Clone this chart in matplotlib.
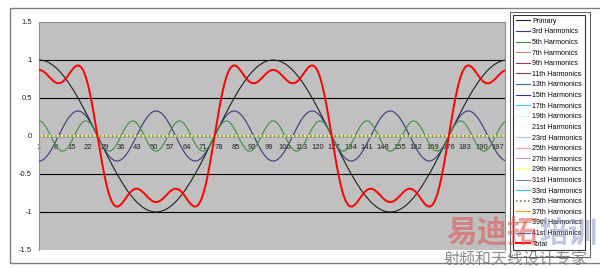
import numpy as np
import matplotlib
matplotlib.use("Agg")
import matplotlib.pyplot as plt
from matplotlib.patches import Rectangle

plt.rcParams['font.family'] = ['Liberation Sans', 'Noto Sans CJK SC', 'DejaVu Sans']

# sample index along the x axis (Excel row numbers)
points = np.arange(1, 201)
period = 100  # samples per cycle of the primary, read from the zero crossings

orders = [1, 3, 5, 7, 9, 11, 13, 15, 17, 19, 21, 23, 25, 27, 29, 31, 33, 35, 37, 39, 41]
labels = ["Primary", "3rd Harmonics", "5th Harmonics", "7th Harmonics", "9th Harmonics",
          "11th Harmonics", "13th Harmonics", "15th Harmonics", "17th Harmonics",
          "19th Harmonics", "21st Harmonics", "23rd Harmonics", "25th Harmonics",
          "27th Harmonics", "29th Harmonics", "31st Harmonics", "33rd Harmonics",
          "35th Harmonics", "37th Harmonics", "39th Harmonics", "41st Harmonics"]
# peak value of each component (only 3 are non zero)
amplitudes = [1.0, -0.33, 0.2] + [0.0] * 18

colors = ["#202020", "#3a3a80", "#3f8f3f", "#b09070", "#993366", "#804060",
          "#337777", "#333399", "#33ccff", "#ccffee", "#f4f8f0", "#99ccff",
          "#ff99cc", "#cc99cc", "#ffff99", "#6688bb", "#33cccc", "#6b6b20",
          "#ff9933", "#cc9966", "#3366cc"]
styles = ["-"] * 21
styles[17] = ":"

xticks = list(range(1, 198, 7))

fig = plt.figure(figsize=(6, 2.68), dpi=100)
W, H = 600, 268

# outer chart frame
fig.patches.append(Rectangle((10 / W, 1 - 263 / H), 595 / W, 255 / H, transform=fig.transFigure,
                             fill=False, edgecolor="#808080", lw=1.0))

ax = fig.add_axes([39 / W, 1 - 250 / H, (505 - 39) / W, (250 - 22) / H])
ax.set_facecolor("#c0c0c0")

phase = 2 * np.pi * (points - 1) / period
total = np.zeros(len(points))
handles = []
for i, (n, a, lab, c, ls) in enumerate(zip(orders, amplitudes, labels, colors, styles)):
    y = a * np.cos(n * phase)
    total += y
    z = 3
    lw = 0.8
    if i == 14:
        z, lw = 3.5, 1.2
    if ls == ":":
        z, lw = 3.6, 1.1
    h, = ax.plot(points, y, color=c, lw=lw, ls=ls, label=lab, zorder=z)
    handles.append(h)
h, = ax.plot(points, total, color="#ff0000", lw=1.4, label="Total", zorder=4)
handles.append(h)

ax.set_xlim(1, 200)
ax.set_ylim(-1.5, 1.5)
ax.set_yticks([-1.5, -1, -0.5, 0, 0.5, 1, 1.5])
ax.set_yticklabels(["-1.5", "-1", "-0.5", "0", "0.5", "1", "1.5"])
for v in [-1, -0.5, 0.5, 1]:
    ax.axhline(v, color="black", lw=0.8, zorder=1)

ax.set_xticks(xticks)
ax.set_xticklabels([str(t) for t in xticks])
ax.spines['bottom'].set_position(('data', 0))
ax.spines['bottom'].set_visible(False)
for s in ['top', 'left', 'right']:
    ax.spines[s].set_color("#909090")
    ax.spines[s].set_linewidth(0.8)
ax.tick_params(axis='x', length=0, pad=6, labelsize=5.5, colors="#222222")
ax.tick_params(axis='y', length=0, pad=5, labelsize=5.5, colors="#222222")

leg = fig.legend(handles=handles, loc="upper left", bbox_to_anchor=(513 / W, 1 - 15 / H),
                 fontsize=5, frameon=True, fancybox=False, handlelength=2.0,
                 handletextpad=0.4, labelspacing=0.52, borderpad=0.4, borderaxespad=0)
leg.get_frame().set_edgecolor("black")
leg.get_frame().set_linewidth(0.8)

fig.patches.append(Rectangle((510 / W, 1 - 257 / H), 80 / W, 245 / H, transform=fig.transFigure,
                             fill=False, edgecolor="#404040", lw=0.6))

# site watermark drawn over the chart
fig.text(446 / W, 1 - 242 / H, "易迪拓", fontsize=22, fontweight="bold", color="#e05050",
         alpha=0.55, family=["Noto Sans CJK SC"], zorder=10)
fig.text(539 / W, 1 - 242 / H, "培训", fontsize=21, fontweight="bold", color="#8090c0",
         alpha=0.5, family=["Noto Sans CJK SC"], zorder=10)
fig.text(443 / W, 1 - 264 / H, "射频和天线设计专家", fontsize=11.5, color="#707070",
         alpha=0.8, family=["Noto Sans CJK SC"], zorder=10)

fig.savefig("out.png", dpi=100)
